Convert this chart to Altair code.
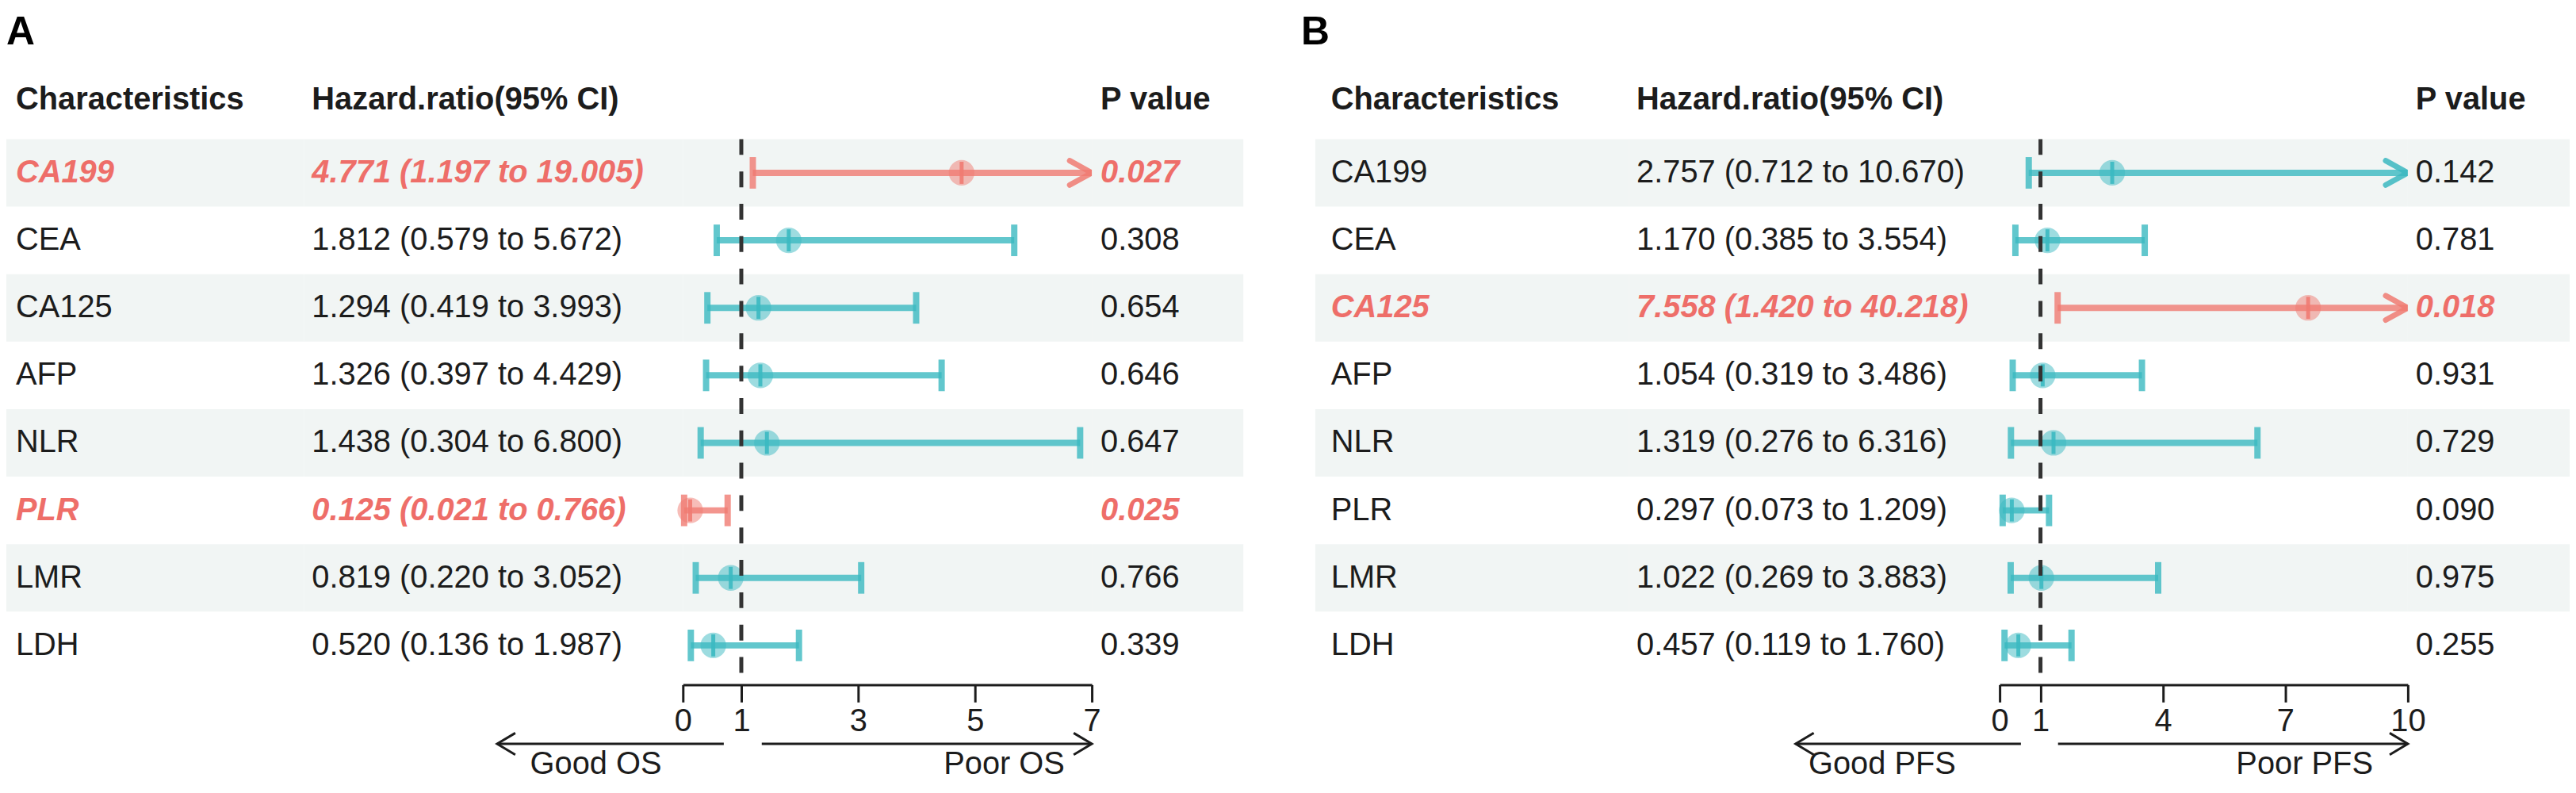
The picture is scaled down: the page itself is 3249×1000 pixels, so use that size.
import altair as alt
import numpy as np
import pandas as pd

# ---------------- data ----------------
chars = ["CA199", "CEA", "CA125", "AFP", "NLR", "PLR", "LMR", "LDH"]

os_hr = [4.771, 1.812, 1.294, 1.326, 1.438, 0.125, 0.819, 0.520]
os_lo = [1.197, 0.579, 0.419, 0.397, 0.304, 0.021, 0.220, 0.136]
os_hi = [19.005, 5.672, 3.993, 4.429, 6.800, 0.766, 3.052, 1.987]
os_p = [0.027, 0.308, 0.654, 0.646, 0.647, 0.025, 0.766, 0.339]

pfs_hr = [2.757, 1.170, 7.558, 1.054, 1.319, 0.297, 1.022, 0.457]
pfs_lo = [0.712, 0.385, 1.420, 0.319, 0.276, 0.073, 0.269, 0.119]
pfs_hi = [10.670, 3.554, 40.218, 3.486, 6.316, 1.209, 3.883, 1.760]
pfs_p = [0.142, 0.781, 0.018, 0.931, 0.729, 0.090, 0.975, 0.255]

os_ticks = [0, 1, 3, 5, 7]
pfs_ticks = [0, 1, 4, 7, 10]

headers = ["Characteristics", "Hazard.ratio(95% CI)", "P value"]

# ---------------- styles ----------------
FONT = "Liberation Sans"
TEAL = "#3BB9C1"
SALMON = "#F07B72"
SIG_TEXT = "#EE6E69"
SHADE = "#F1F5F4"
INK = "#1c1c1c"
FS = 40
ROW_H = 85.5
H = ROW_H * len(chars)

Y = alt.Y("char:N", axis=None,
          scale=alt.Scale(domain=chars, paddingInner=0, paddingOuter=0))
COLOR = alt.Color("sig:N", legend=None,
                  scale=alt.Scale(domain=["sig", "ns"], range=[SALMON, TEAL]))

CHEV_R = "M-1,-0.55L0,0L-1,0.55"
CHEV_L = "M1,-0.6L0,0L1,0.6"
CHEV_R2 = "M-1,-0.6L0,0L-1,0.6"


def make_df(hr, lo, hi, p, xmax):
    df = pd.DataFrame({"char": chars, "hr": hr, "lo": lo, "hi": hi, "p": p})
    df["hi_draw"] = np.minimum(df["hi"], xmax)
    df["clipped"] = df["hi"] > xmax
    df["sig"] = np.where(df["p"] < 0.05, "sig", "ns")
    df["shade"] = [i % 2 == 0 for i in range(len(df))]
    df["hrtxt"] = [f"{a:.3f} ({b:.3f} to {c:.3f})" for a, b, c in zip(hr, lo, hi)]
    df["ptxt"] = [f"{v:.3f}" for v in p]
    return df


def shade_layer(df, w):
    return alt.Chart(df).transform_filter("datum.shade").mark_rect(
        color=SHADE).encode(y=Y, x=alt.value(0), x2=alt.value(w))


def text_col(df, w, field, header, xoff, panel_label=None, label_x=0):
    base = alt.Chart(df)
    layers = [shade_layer(df, w)]
    layers.append(base.transform_filter("datum.sig == 'ns'").mark_text(
        align="left", baseline="middle", font=FONT, fontSize=FS, color=INK
    ).encode(y=Y, x=alt.value(xoff), text=f"{field}:N"))
    layers.append(base.transform_filter("datum.sig == 'sig'").mark_text(
        align="left", baseline="middle", font=FONT, fontSize=FS,
        fontWeight="bold", fontStyle="italic", color=SIG_TEXT
    ).encode(y=Y, x=alt.value(xoff), text=f"{field}:N"))
    layers.append(alt.Chart(pd.DataFrame({"t": [header]})).mark_text(
        align="left", baseline="middle", font=FONT, fontSize=FS,
        fontWeight="bold", color=INK
    ).encode(x=alt.value(xoff), y=alt.value(-50), text="t:N"))
    if panel_label:
        layers.append(alt.Chart(pd.DataFrame({"t": [panel_label]})).mark_text(
            align="left", baseline="top", font=FONT, fontSize=50,
            fontWeight="bold", color="#000000"
        ).encode(x=alt.value(label_x), y=alt.value(-160), text="t:N"))
    return alt.layer(*layers).properties(width=w, height=H)


def forest_col(df, w, xmax, ticks, arrows):
    base = alt.Chart(df)
    X = alt.X("lo:Q", title=None,
              scale=alt.Scale(domain=[0, xmax], nice=False, zero=False),
              axis=alt.Axis(values=ticks, orient="bottom", offset=7,
                            tickSize=22, tickWidth=3, tickColor=INK,
                            domainWidth=3, domainColor=INK,
                            labelFont=FONT, labelFontSize=FS, labelColor=INK,
                            labelPadding=4, labelFlush=False,
                            labelOverlap=False, grid=False, format="d"))
    layers = [shade_layer(df, w)]
    layers.append(base.mark_rule(strokeWidth=8, opacity=0.8).encode(
        x=X, x2="hi_draw:Q", y=Y, color=COLOR))
    layers.append(base.mark_tick(size=40, thickness=8, opacity=0.8).encode(
        x="lo:Q", y=Y, color=COLOR))
    layers.append(base.transform_filter("!datum.clipped").mark_tick(
        size=40, thickness=8, opacity=0.8).encode(x="hi_draw:Q", y=Y, color=COLOR))
    layers.append(base.transform_filter("datum.clipped").mark_point(
        shape=CHEV_R, size=3136, filled=False, strokeWidth=7, opacity=0.85,
        strokeCap="round", strokeJoin="round"
    ).encode(x="hi_draw:Q", y=Y, color=COLOR))
    layers.append(base.mark_circle(size=1050, opacity=0.5).encode(
        x="hr:Q", y=Y, color=COLOR))
    layers.append(base.mark_tick(size=28, thickness=5, opacity=0.9).encode(
        x="hr:Q", y=Y, color=COLOR))
    layers.append(alt.Chart(pd.DataFrame({"v": [1]})).mark_rule(
        strokeDash=[20, 21], strokeWidth=5, color="#333333"
    ).encode(x="v:Q", y=alt.value(0), y2=alt.value(H)))

    # direction arrows below the axis
    (l0, l1), (r0, r1), ltxt, rtxt, lx, rx = arrows
    ay = H + 82
    ty = H + 108
    adf = pd.DataFrame({"a": [l0, r0], "b": [l1, r1]})
    layers.append(alt.Chart(adf).mark_rule(strokeWidth=3, color=INK).encode(
        x="a:Q", x2="b:Q", y=alt.value(ay)))
    layers.append(alt.Chart(pd.DataFrame({"a": [l1]})).mark_point(
        shape=CHEV_L, size=2116, filled=False, strokeWidth=3, color=INK, opacity=1
    ).encode(x="a:Q", y=alt.value(ay)))
    layers.append(alt.Chart(pd.DataFrame({"a": [r1]})).mark_point(
        shape=CHEV_R2, size=2116, filled=False, strokeWidth=3, color=INK, opacity=1
    ).encode(x="a:Q", y=alt.value(ay)))
    tdf = pd.DataFrame({"x": [lx, rx], "t": [ltxt, rtxt]})
    layers.append(alt.Chart(tdf).mark_text(
        align="center", baseline="middle", font=FONT, fontSize=FS, color=INK
    ).encode(x="x:Q", y=alt.value(ty), text="t:N"))
    return alt.layer(*layers).properties(width=w, height=H)


dfA = make_df(os_hr, os_lo, os_hi, os_p, 7)
dfB = make_df(pfs_hr, pfs_lo, pfs_hi, pfs_p, 10)

os_arrows = ((0.7, -3.18), (1.35, 7.0), "Good OS", "Poor OS", -1.49, 5.5)
pfs_arrows = ((0.52, -5.0), (1.43, 10.0), "Good PFS", "Poor PFS", -2.88, 7.47)

panelA = alt.hconcat(
    text_col(dfA, 377, "char", headers[0], 12, "A", 0),
    text_col(dfA, 480, "hrtxt", headers[1], 10),
    forest_col(dfA, 518, 7, os_ticks, os_arrows),
    text_col(dfA, 192, "ptxt", headers[2], 11),
    spacing=0, bounds="flush",
)
panelB = alt.hconcat(
    text_col(dfB, 397, "char", headers[0], 20, "B", -18),
    text_col(dfB, 470, "hrtxt", headers[1], 10),
    forest_col(dfB, 517, 10, pfs_ticks, pfs_arrows),
    text_col(dfB, 205, "ptxt", headers[2], 10),
    spacing=0, bounds="flush",
)

chart = alt.hconcat(
    panelA, panelB, spacing=73,
    padding={"left": 0, "top": 6, "right": 0, "bottom": 0},
    background="white"
).configure_view(strokeWidth=0)

chart.save("out.html", embed_options={"renderer": "svg", "actions": False})
